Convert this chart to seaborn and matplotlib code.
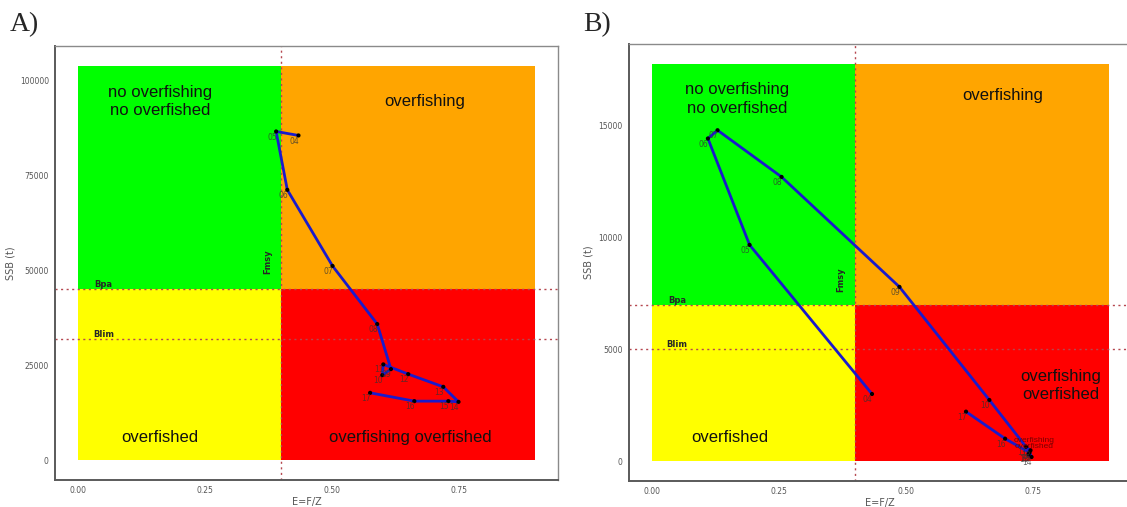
import numpy as np
import pandas as pd
import matplotlib
matplotlib.use("Agg")
import matplotlib.pyplot as plt
import seaborn as sns
from matplotlib.patches import Rectangle

# reference points
FMSY = 0.4
E_MAX = 0.9

years = ["04", "05", "06", "07", "08", "09", "10", "11", "12", "13", "14", "15", "16", "17"]

# panel A
e_a = [0.434, 0.390, 0.412, 0.501, 0.589, 0.616, 0.599, 0.601, 0.650, 0.719, 0.749, 0.729, 0.662, 0.575]
ssb_a = [85570, 86620, 71240, 51190, 35880, 24010, 22430, 25250, 22690, 19340, 15380, 15570, 15570, 17760]
bpa_a, blim_a = 45000, 32000
yticks_a = [0, 25000, 50000, 75000, 100000]

# panel B
e_b = [0.434, 0.193, 0.111, 0.130, 0.256, 0.488, 0.665, 0.737, 0.746, 0.742, 0.748, 0.744, 0.696, 0.619]
ssb_b = [3000, 9670, 14430, 14800, 12710, 7790, 2730, 640, 480, 300, 180, 380, 1000, 2210]
bpa_b, blim_b = 7000, 5000
yticks_b = [0, 5000, 10000, 15000]

xticks = [0.00, 0.25, 0.50, 0.75]

NARROW = ["Liberation Sans Narrow", "Liberation Sans", "DejaVu Sans"]
LINE_RED = "#b5474f"


def kobe_panel(ax, e, ssb, bpa, blim, yticks, zone_pos, tag):
    top = max(ssb) * 1.2
    # quadrants
    ax.add_patch(Rectangle((0, bpa), FMSY, top - bpa, color="#00ff00", lw=0, zorder=0))
    ax.add_patch(Rectangle((FMSY, bpa), E_MAX - FMSY, top - bpa, color="#ffa500", lw=0, zorder=0))
    ax.add_patch(Rectangle((0, 0), FMSY, bpa, color="#ffff00", lw=0, zorder=0))
    ax.add_patch(Rectangle((FMSY, 0), E_MAX - FMSY, bpa, color="#ff0000", lw=0, zorder=0))

    ax.axhline(bpa, color=LINE_RED, ls=(0, (1.5, 2.5)), lw=1, zorder=1)
    ax.axhline(blim, color=LINE_RED, ls=(0, (1.5, 2.5)), lw=1, zorder=1)
    ax.axvline(FMSY, color=LINE_RED, ls=(0, (1.5, 2.5)), lw=1, zorder=1)

    ax.text(0.05, bpa, "Bpa", fontsize=6, fontweight="bold", ha="center", va="bottom", zorder=3)
    ax.text(0.05, blim, "Blim", fontsize=6, fontweight="bold", ha="center", va="bottom", zorder=3)
    ax.text(FMSY - 0.027, bpa * 1.16, "Fmsy", fontsize=6, fontweight="bold", rotation=90,
            ha="center", va="center", zorder=3)

    for txt, (x, y) in zone_pos.items():
        ax.text(x, y, txt, fontsize=12, family=NARROW, ha="center", va="center",
                color="#111111", linespacing=1.3, zorder=3)

    df = pd.DataFrame({"E": e, "SSB": ssb, "year": years})
    sns.lineplot(data=df, x="E", y="SSB", sort=False, color="#1a1acc", lw=2, ax=ax, zorder=4)
    sns.scatterplot(data=df, x="E", y="SSB", color="black", s=9, edgecolor="none", ax=ax, zorder=5)
    for _, r in df.iterrows():
        ax.annotate(r["year"], (r["E"], r["SSB"]), xytext=(-3, -4), textcoords="offset points",
                    fontsize=5.5, color="#333333", alpha=0.75, ha="center", va="center", zorder=6)

    ax.set_xlim(-0.045 * E_MAX / 0.9, E_MAX * 1.05)
    ax.set_ylim(-0.05 * top, 1.05 * top)
    ax.set_xticks(xticks)
    ax.set_xticklabels(["{:.2f}".format(x) for x in xticks])
    ax.set_yticks(yticks)
    ax.set_yticklabels([str(y) for y in yticks])
    ax.tick_params(labelsize=5.5, labelcolor="#555555", color="#555555", length=2.5, width=0.8, pad=2)
    ax.set_xlabel("E=F/Z", fontsize=7, color="#555555", labelpad=1)
    ax.set_ylabel("SSB (t)", fontsize=7, color="#555555", labelpad=3)
    for side in ["top", "right"]:
        ax.spines[side].set_color("#8a8a8a")
        ax.spines[side].set_linewidth(1.0)
    for side in ["left", "bottom"]:
        ax.spines[side].set_color("#5a5a5a")
        ax.spines[side].set_linewidth(1.4)
    ax.figure.text(ax.get_position().x0 - 0.04, 0.951, tag, fontsize=20,
                   family=["Liberation Serif", "DejaVu Serif"], ha="left", va="center")


sns.set_style("white")
fig = plt.figure(figsize=(11.27, 5.07), dpi=100)
ax_a = fig.add_axes([0.0489, 0.0533, 0.4463, 0.856])
ax_b = fig.add_axes([0.5578, 0.0515, 0.4463, 0.8613])

kobe_panel(ax_a, e_a, ssb_a, bpa_a, blim_a, yticks_a,
           {"no overfishing\nno overfished": (0.161, 94500),
            "overfishing": (0.683, 94500),
            "overfished": (0.161, 6000),
            "overfishing overfished": (0.654, 6000)}, "A)")
kobe_panel(ax_b, e_b, ssb_b, bpa_b, blim_b, yticks_b,
           {"no overfishing\nno overfished": (0.168, 16200),
            "overfishing": (0.692, 16350),
            "overfished": (0.154, 1070),
            "overfishing\noverfished": (0.805, 3380)}, "B)")
ax_b.text(0.753, 780, "overfishing\noverfished", fontsize=6, family=NARROW, color="#7a0000",
          ha="center", va="center", linespacing=0.9, zorder=7)

fig.savefig("out.png", dpi=100)
